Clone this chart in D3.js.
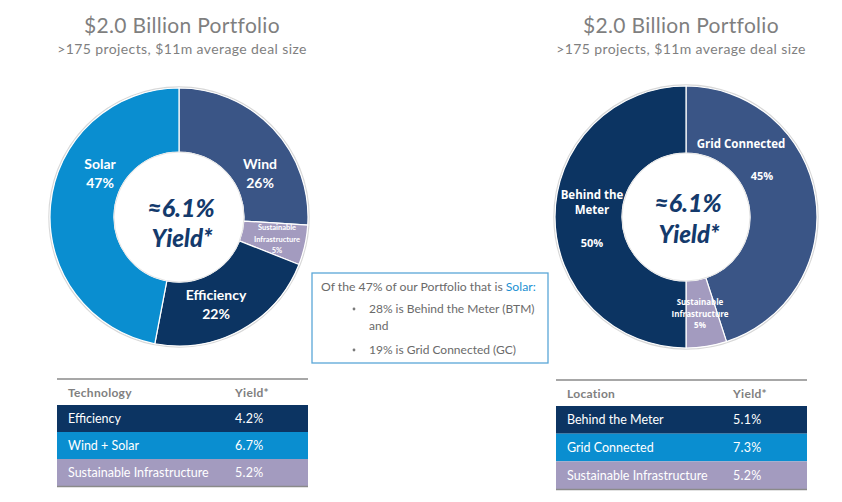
<!DOCTYPE html>
<html>
<head>
<meta charset="utf-8">
<script src="https://cdn.jsdelivr.net/npm/d3@7/dist/d3.min.js"></script>
<style>
  html, body { margin: 0; padding: 0; background: #fff; }
  svg { display: block; }
</style>
</head>
<body>
<svg id="chart" width="842" height="502"></svg>
<script>
// ---------- DATA ----------
const titleText = "$2.0 Billion Portfolio";
const subtitleText = ">175 projects, $11m average deal size";
const centerYield = "≈6.1%";
const centerYieldLabel = "Yield*";

const techCategories = ["Wind", "Sustainable Infrastructure", "Efficiency", "Solar"];
const techShares = [26, 5, 22, 47];

const locCategories = ["Grid Connected", "Sustainable Infrastructure", "Behind the Meter"];
const locShares = [45, 5, 50];

const techTableHeader = ["Technology", "Yield*"];
const techTableRows = ["Efficiency", "Wind + Solar", "Sustainable Infrastructure"];
const techTableYields = ["4.2%", "6.7%", "5.2%"];

const locTableHeader = ["Location", "Yield*"];
const locTableRows = ["Behind the Meter", "Grid Connected", "Sustainable Infrastructure"];
const locTableYields = ["5.1%", "7.3%", "5.2%"];

const noteIntro = "Of the 47% of our Portfolio that is ";
const noteHighlight = "Solar:";
const noteBullets = [["28% is Behind the Meter (BTM)", "and"], ["19% is Grid Connected (GC)"]];

// ---------- STYLE ----------
const NAVY = "#0c3462", MIDBLUE = "#3a5586", BRIGHT = "#0a8ed0", LILAC = "#a39bbf";
const GREY = "#7f7f7f";
const FONT = "Lato, 'Open Sans', sans-serif";
const CAL = "'Open Sans', Lato, sans-serif";

const techColor = d3.scaleOrdinal().domain(techCategories).range([MIDBLUE, LILAC, NAVY, BRIGHT]);
const locColor = d3.scaleOrdinal().domain(locCategories).range([MIDBLUE, LILAC, NAVY]);

const svg = d3.select("#chart");

// ---------- TITLES ----------
function titles(cx) {
  svg.append("text").attr("x", cx).attr("y", 33).attr("text-anchor", "middle")
    .attr("font-family", FONT).attr("font-size", 21).attr("fill", GREY)
    .attr("letter-spacing", 0.3).text(titleText);
  svg.append("text").attr("x", cx).attr("y", 54).attr("text-anchor", "middle")
    .attr("font-family", FONT).attr("font-size", 14).attr("fill", GREY)
    .attr("letter-spacing", 0.4).text(subtitleText);
}
titles(182);
titles(681);

// ---------- DONUTS ----------
function donut(cx, cy, rOuter, rInner, cats, vals, color, labels, labelFont, cShift) {
  const g = svg.append("g").attr("transform", `translate(${cx},${cy})`);
  const pie = d3.pie().sort(null).value(d => d.v);
  const arc = d3.arc().innerRadius(rInner).outerRadius(rOuter);
  const data = pie(cats.map((c, i) => ({ c, v: vals[i] })));
  g.append("circle").attr("r", rOuter + 1).attr("fill", "none").attr("stroke", "#d8d8d8").attr("stroke-width", 1.5);
  g.selectAll("path.slice").data(data).enter().append("path")
    .attr("class", "slice").attr("d", arc)
    .attr("fill", d => color(d.data.c))
    .attr("stroke", "#fff").attr("stroke-width", 1.2);
  g.append("circle").attr("r", rInner).attr("fill", "#fff")
    .attr("stroke", "#e4e4e4").attr("stroke-width", 1);
  // labels
  labels.forEach(L => {
    const t = g.append("text").attr("text-anchor", "middle")
      .attr("font-family", labelFont).attr("font-weight", "bold")
      .attr("fill", "#fff").attr("font-size", L.size);
    L.lines.forEach((ln, i) => {
      t.append("tspan").attr("x", L.dx).attr("y", L.dy[i]).text(ln);
    });
  });
  // center text
  g.append("text").attr("x", 2).attr("y", cShift[0]).attr("text-anchor", "middle")
    .attr("font-family", FONT).attr("font-weight", 900).attr("font-style", "italic")
    .attr("font-size", 25).attr("fill", "#143a6c").text(centerYield);
  g.append("text").attr("x", 3).attr("y", cShift[1]).attr("text-anchor", "middle")
    .attr("font-family", FONT).attr("font-weight", 900).attr("font-style", "italic")
    .attr("font-size", 24).attr("fill", "#143a6c").text(centerYieldLabel);
}

donut(179, 217, 129, 65, techCategories, techShares, techColor, [
  { lines: ["Solar", techShares[3] + "%"], dx: -79, dy: [-48, -29], size: 14 },
  { lines: ["Wind", techShares[0] + "%"], dx: 81, dy: [-48, -29], size: 14 },
  { lines: ["Efficiency", techShares[2] + "%"], dx: 37, dy: [83, 102], size: 14 },
  { lines: ["Sustainable", "Infrastructure", techShares[1] + "%"], dx: 98, dy: [13, 25, 36], size: 7.5 }
], FONT, [0, 30]);

donut(686, 217, 131, 64, locCategories, locShares, locColor, [
  { lines: ["Grid Connected"], dx: 55, dy: [-69], size: 11.5 },
  { lines: [locShares[0] + "%"], dx: 76, dy: [-37], size: 11 },
  { lines: ["Behind the", "Meter"], dx: -94, dy: [-18, -3], size: 11.5 },
  { lines: [locShares[2] + "%"], dx: -94, dy: [30], size: 11 },
  { lines: ["Sustainable", "Infrastructure", locShares[1] + "%"], dx: 14, dy: [88, 100, 111], size: 8 }
], CAL, [-5, 26]);

// ---------- NOTE BOX ----------
svg.append("rect").attr("x", 312).attr("y", 273).attr("width", 236).attr("height", 90)
  .attr("fill", "#fff").attr("stroke", "#5aa7d8").attr("stroke-width", 1.3);
const intro = svg.append("text").attr("x", 321).attr("y", 291)
  .attr("font-family", FONT).attr("font-size", 12.2).attr("fill", "#6a6a6a");
intro.append("tspan").text(noteIntro);
intro.append("tspan").attr("fill", "#1a8fd2").text(noteHighlight);
const bulletY = [[313, 330], [354]];
noteBullets.forEach((lines, i) => {
  svg.append("circle").attr("cx", 354).attr("cy", bulletY[i][0] - 4).attr("r", 1.4).attr("fill", "#7a7a7a");
  lines.forEach((ln, j) => {
    svg.append("text").attr("x", 369).attr("y", bulletY[i][j])
      .attr("font-family", FONT).attr("font-size", 12).attr("fill", "#6a6a6a").text(ln);
  });
});

// ---------- TABLES ----------
function table(x0, x1, colX, top, headerH, rowBottom, header, rows, yields) {
  const rowColor = [NAVY, BRIGHT, LILAC];
  const y = d3.scaleBand().domain(rows).range([top + headerH, rowBottom]).padding(0);
  svg.append("line").attr("x1", x0).attr("x2", x1).attr("y1", top).attr("y2", top)
    .attr("stroke", "#8a8a8a").attr("stroke-width", 1.5);
  svg.append("text").attr("x", x0 + 11).attr("y", top + 18)
    .attr("font-family", FONT).attr("font-weight", "bold").attr("font-size", 12)
    .attr("fill", "#808080").attr("letter-spacing", 0.3).text(header[0]);
  svg.append("text").attr("x", colX).attr("y", top + 18)
    .attr("font-family", FONT).attr("font-weight", "bold").attr("font-size", 12)
    .attr("fill", "#808080").attr("letter-spacing", 0.3).text(header[1]);
  rows.forEach((r, i) => {
    svg.append("rect").attr("x", x0).attr("y", y(r)).attr("width", x1 - x0).attr("height", y.bandwidth())
      .attr("fill", rowColor[i]);
    svg.append("text").attr("x", x0 + 11).attr("y", y(r) + y.bandwidth() / 2 + 4.5)
      .attr("font-family", FONT).attr("font-size", 12.5).attr("fill", "#fff")
      .text(r);
    svg.append("text").attr("x", colX).attr("y", y(r) + y.bandwidth() / 2 + 4.5)
      .attr("font-family", FONT).attr("font-size", 12.5).attr("fill", "#fff")
      .attr("letter-spacing", 0.3).text(yields[i]);
  });
  svg.append("line").attr("x1", x0).attr("x2", x1).attr("y1", rowBottom + 0.5).attr("y2", rowBottom + 0.5)
    .attr("stroke", "#8a8a8a").attr("stroke-width", 1.5);
}
table(57, 308, 235, 379, 26, 486, techTableHeader, techTableRows, techTableYields);
table(556, 807, 733, 380, 26, 489, locTableHeader, locTableRows, locTableYields);
</script>
</body>
</html>
